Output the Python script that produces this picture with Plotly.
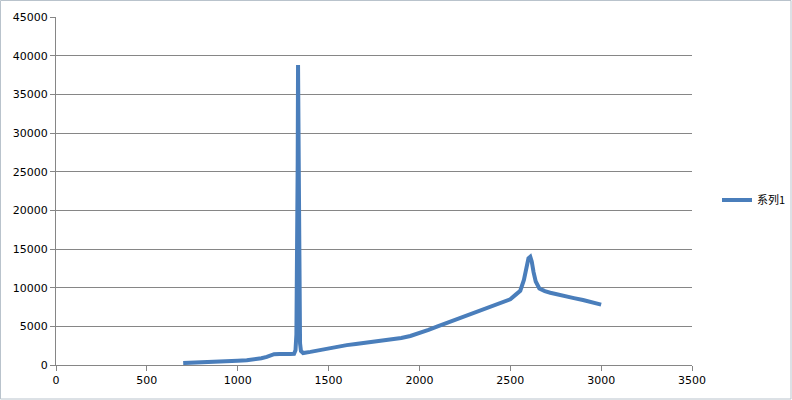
# 光谱曲线 (Excel 风格折线散点图)
import plotly.graph_objects as go

# 数据：横坐标与强度
x_vals = [700, 750, 800, 850, 900, 950, 1000, 1050, 1100, 1130, 1160, 1180, 1200, 1230,
          1260, 1290, 1310, 1318, 1323, 1327, 1330, 1332, 1334, 1336, 1339, 1343, 1348,
          1360, 1400, 1450, 1500, 1550, 1600, 1650, 1700, 1750, 1800, 1850, 1900, 1950,
          2000, 2050, 2100, 2150, 2200, 2250, 2300, 2350, 2400, 2450, 2500, 2530, 2555,
          2575, 2590, 2600, 2610, 2618, 2628, 2640, 2660, 2690, 2720, 2760, 2800, 2850,
          2900, 2950, 3000]
y_vals = [250, 280, 320, 370, 420, 480, 550, 620, 750, 880, 1050, 1250, 1400, 1420,
          1380, 1430, 1450, 1900, 4000, 12000, 26000, 38800, 30000, 16000, 6500, 2800, 1800,
          1550, 1700, 1950, 2200, 2400, 2570, 2720, 2860, 3000, 3150, 3320, 3500, 3750,
          4100, 4550, 5000, 5450, 5900, 6350, 6750, 7200, 7650, 8050, 8500, 9100, 9600,
          11000, 12600, 13800, 14000, 13400, 12000, 10800, 9900, 9550, 9350, 9100, 8900, 8650,
          8400, 8100, 7800]
serie_nombre = "系列1"

fuente = "DejaVu Sans"

fig = go.Figure()
fig.add_trace(go.Scatter(x=x_vals, y=y_vals, mode="lines", name=serie_nombre,
                         line=dict(color="#4A7EBB", width=4)))

fig.update_layout(
    width=792, height=400,
    margin=dict(l=56, r=100, t=17, b=35, autoexpand=False),
    paper_bgcolor="white", plot_bgcolor="white",
    font=dict(family=fuente, size=11, color="black"),
    showlegend=True,
    legend=dict(xref="container", yref="container", x=717 / 792, y=0.5,
                xanchor="left", yanchor="middle",
                font=dict(family="Noto Sans CJK SC", size=11, color="black"),
                itemwidth=30, bgcolor="rgba(0,0,0,0)"),
    xaxis=dict(range=[0, 3500], dtick=500, showgrid=False, zeroline=False,
               showline=True, linecolor="#868686", linewidth=1, tickformat="d",
               ticks="outside", ticklen=5, tickcolor="#868686"),
    yaxis=dict(range=[0, 45000], dtick=5000, showgrid=True, gridcolor="#868686",
               gridwidth=1, zeroline=False, showline=True, linecolor="#868686",
               linewidth=1, ticks="outside", ticklen=5, tickcolor="#868686",
               tickformat="d"),
)

# Borde del gráfico
fig.add_shape(type="rect", xref="paper", yref="paper",
              x0=-55.5 / 636, x1=1 + 99 / 636, y0=-34 / 348, y1=1 + 16.5 / 348,
              line=dict(color="#B9C3CC", width=1))

# Quitar el margen del body para que el gráfico quede en (0, 0)
fig.write_html("out.html", config={"displayModeBar": False},
               post_script="document.body.style.margin='0';")
